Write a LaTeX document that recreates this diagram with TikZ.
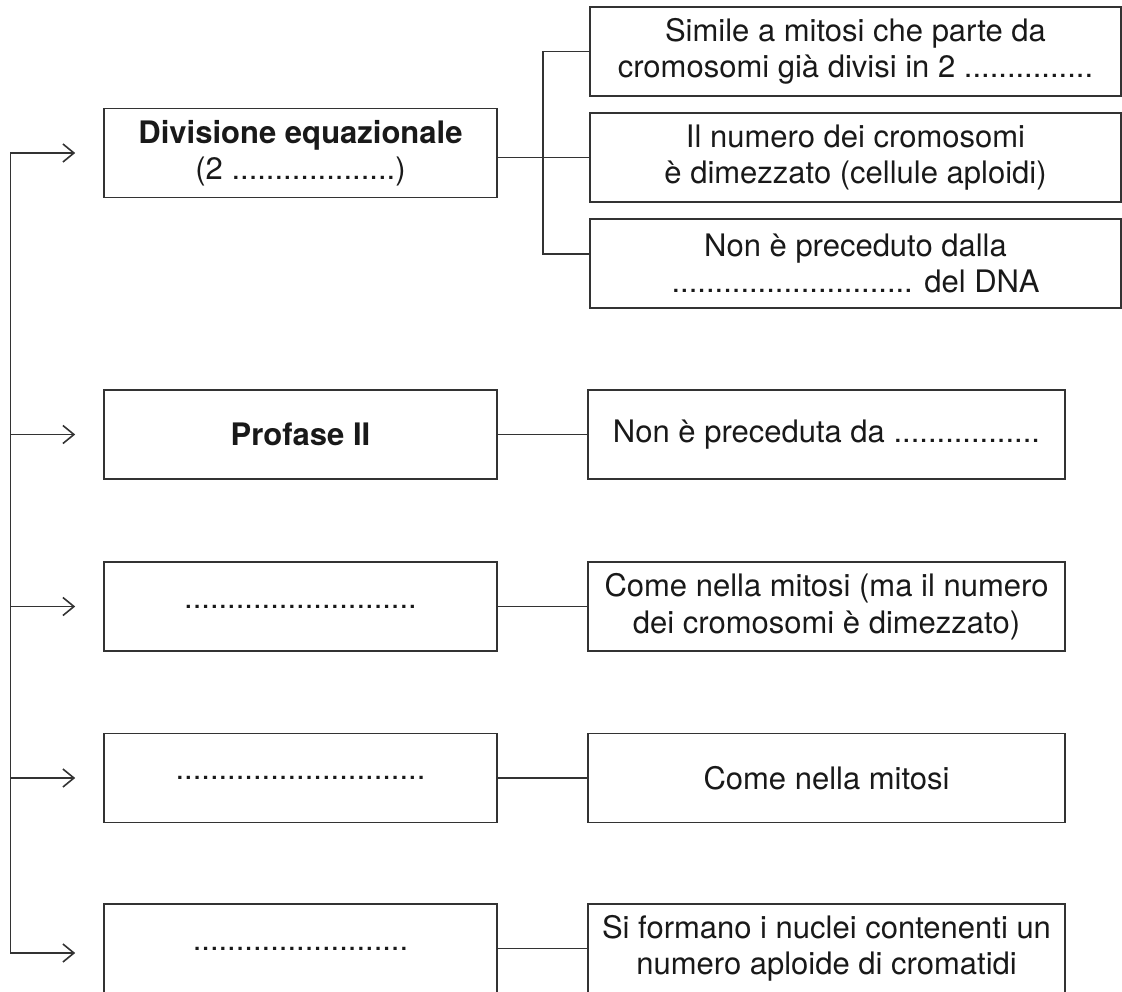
\documentclass[tikz,border=0pt]{standalone}
\usepackage{fontspec}
\setmainfont{TeX Gyre Heros}
\usetikzlibrary{arrows.meta}
\definecolor{linec}{gray}{0.2}
\definecolor{textc}{gray}{0.1}
\tikzset{
  box/.style={draw=linec, line width=1.6pt, rectangle, inner sep=0pt, align=center,
    text=textc, font=\fontsize{31}{36.5}\selectfont},
  lbox/.style={box, minimum width=393pt, minimum height=89pt},
  rbox/.style={box, minimum width=477pt, minimum height=89pt},
  tbox/.style={box, minimum width=531pt, minimum height=89pt},
  wire/.style={draw=linec, line width=1.6pt},
  arr/.style={wire, -{Straight Barb[length=11pt, width=18pt, line width=1.6pt]}},
  darr/.style={wire, {Straight Barb[length=11pt, width=18pt, line width=1.6pt]}-{Straight Barb[length=11pt, width=18pt, line width=1.6pt]}}
}
\begin{document}
\begin{tikzpicture}[x=1pt, y=-1pt]
\useasboundingbox (0,0) rectangle (1122,991);
\clip (0,0) rectangle (1122,991);
% left boxes
\node[lbox] (L1) at (300.5,153) {\textbf{Divisione equazionale}\\(2 ...................)};
\node[lbox] (L2) at (300.5,434.5) {\textbf{Profase II}};
\node[lbox] (L3) at (300.5,606.5) {...........................};
\node[lbox] (L4) at (300.5,778) {.............................};
\node[lbox] (L5) at (300.5,948.5) {.........................};
% top right boxes
\node[tbox] (R1) at (855.5,51.5) {Simile a mitosi che parte da\\cromosomi già divisi in 2 ...............};
\node[tbox] (R2) at (855.5,157.5) {Il numero dei cromosomi\\è dimezzato (cellule aploidi)};
\node[tbox] (R3) at (855.5,263.5) {Non è preceduto dalla\\............................ del DNA};
% right boxes
\node[rbox] (Q2) at (826.5,434.5) {Non è preceduta da .................};
\node[rbox] (Q3) at (826.5,606.5) {Come nella mitosi (ma il numero\\dei cromosomi è dimezzato)};
\node[rbox] (Q4) at (826.5,778) {Come nella mitosi};
\node[rbox] (Q5) at (826.5,948.5) {Si formano i nuclei contenenti un\\numero aploide di cromatidi};
% branch on the right of L1
\coordinate (b1) at (543,51.5);
\coordinate (b3) at (543,254);
\draw[wire] (L1.east |- R2.west) -- (R2.west);
\draw[wire] (R1.west) -- (b1) -- (b3) -- ([yshift=9.5pt]R3.west);
% row connectors
\draw[wire] (L2.east) -- (Q2.west);
\draw[wire] (L3.east) -- (Q3.west);
\draw[wire] (L4.east) -- (Q4.west);
\draw[wire] (L5.east) -- (Q5.west);
% left spine with arrows
\coordinate (sp) at (10.5,0);
\draw[darr] ([xshift=-28pt]L1.west) -- (L1.west -| sp) -- ([yshift=-4.5pt]L5.west -| sp) -- ([xshift=-28pt,yshift=-4.5pt]L5.west);
\draw[arr] (L2.west -| sp) -- ([xshift=-28pt]L2.west);
\draw[arr] (L3.west -| sp) -- ([xshift=-28pt]L3.west);
\draw[arr] (L4.west -| sp) -- ([xshift=-28pt]L4.west);
\end{tikzpicture}
\end{document}
